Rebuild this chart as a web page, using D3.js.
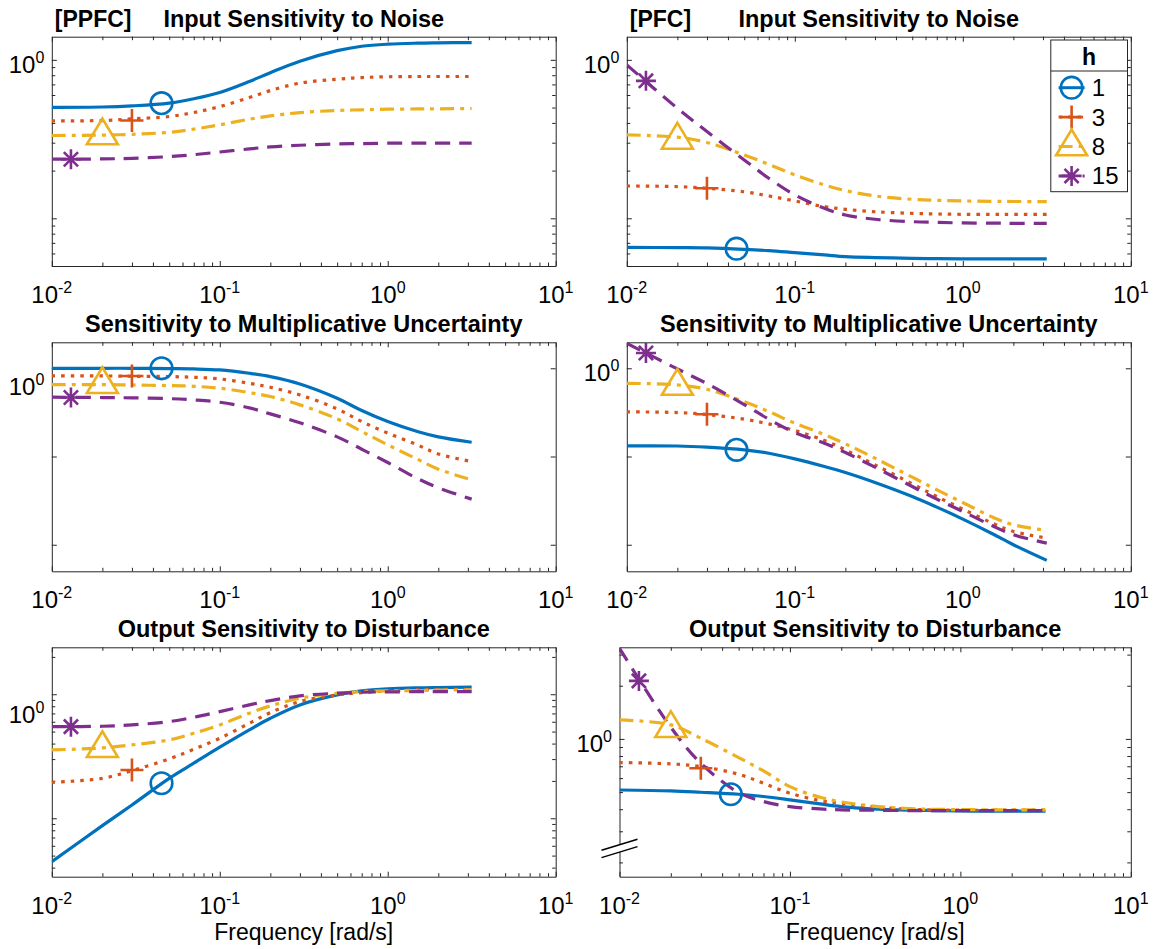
<!DOCTYPE html>
<html>
<head>
<meta charset="utf-8">
<script src="https://cdn.jsdelivr.net/npm/d3@7"></script>
<style>
  body { margin: 0; background: #fff; }
  text { font-family: "Liberation Sans", Arial, Helvetica, sans-serif; fill: #000; }
</style>
</head>
<body>
<div id="chart"></div>
<script>
// frequencies (rad/s) the curves were read at
var freq = [0.01, 0.02, 0.03, 0.05, 0.07, 0.1, 0.15, 0.2, 0.3, 0.5, 0.7, 1, 1.5, 2, 3.16];
var horizons = ["1", "3", "8", "15"];
var markerFreq = [0.045, 0.03, 0.02, 0.013];
var xTicks = [0.01, 0.1, 1, 10];
var xTickExp = ["-2", "-1", "0", "1"];

// one row per horizon h = 1, 3, 8, 15
var ppfcNoise = [
  [0.502, 0.504, 0.512, 0.533, 0.568, 0.622, 0.730, 0.830, 0.980, 1.143, 1.219, 1.256, 1.274, 1.28, 1.286],
  [0.412, 0.414, 0.424, 0.439, 0.465, 0.507, 0.578, 0.640, 0.713, 0.755, 0.773, 0.782, 0.785, 0.785, 0.785],
  [0.333, 0.335, 0.339, 0.349, 0.365, 0.389, 0.422, 0.443, 0.465, 0.479, 0.484, 0.488, 0.490, 0.491, 0.493],
  [0.236, 0.237, 0.239, 0.245, 0.252, 0.262, 0.274, 0.282, 0.289, 0.295, 0.296, 0.298, 0.298, 0.298, 0.298]
];
var ppfcNoiseMarks = [0.533, 0.414, 0.333, 0.236];

var pfcNoise = [
  [0.0656, 0.0653, 0.065, 0.0637, 0.0625, 0.0607, 0.0587, 0.0573, 0.0565, 0.0559, 0.0556, 0.0555, 0.0554, 0.0554, 0.0554],
  [0.160, 0.1585, 0.1547, 0.147, 0.1384, 0.1287, 0.1185, 0.114, 0.110, 0.1075, 0.1065, 0.106, 0.106, 0.106, 0.106],
  [0.336, 0.325, 0.301, 0.251, 0.219, 0.188, 0.1624, 0.1496, 0.1384, 0.1318, 0.130, 0.1287, 0.128, 0.1277, 0.1274],
  [0.930, 0.495, 0.353, 0.2335, 0.179, 0.1405, 0.1157, 0.105, 0.0986, 0.0952, 0.0943, 0.0935, 0.0932, 0.093, 0.093]
];
var pfcNoiseMarks = [0.0643, 0.1547, 0.3125, 0.737];

var ppfcUncert = [
  [1.0, 1.0, 1.0, 0.991, 0.983, 0.957, 0.878, 0.805, 0.665, 0.458, 0.332, 0.249, 0.192, 0.167, 0.145],
  [0.819, 0.819, 0.812, 0.805, 0.791, 0.757, 0.676, 0.609, 0.499, 0.346, 0.249, 0.184, 0.1355, 0.107, 0.0878],
  [0.653, 0.653, 0.647, 0.636, 0.625, 0.594, 0.530, 0.478, 0.385, 0.267, 0.192, 0.1355, 0.0933, 0.0719, 0.0544],
  [0.470, 0.466, 0.462, 0.453, 0.438, 0.412, 0.356, 0.304, 0.241, 0.167, 0.121, 0.0855, 0.0564, 0.0442, 0.0329]
];
var ppfcUncertMarks = [1.0, 0.819, 0.659, 0.466];

var pfcUncert = [
  [0.132, 0.1316, 0.1275, 0.119, 0.109, 0.0941, 0.0771, 0.0659, 0.0508, 0.0352, 0.0267, 0.01953, 0.01333, 0.01, 0.00665],
  [0.3204, 0.315, 0.299, 0.265, 0.234, 0.197, 0.1518, 0.119, 0.0805, 0.0491, 0.0352, 0.0253, 0.01758, 0.01416, 0.0119],
  [0.676, 0.648, 0.578, 0.419, 0.323, 0.2384, 0.1775, 0.139, 0.0958, 0.0583, 0.042, 0.0301, 0.0206, 0.01684, 0.01452],
  [1.918, 0.983, 0.67, 0.388, 0.265, 0.187, 0.1416, 0.111, 0.0757, 0.0457, 0.0329, 0.0238, 0.0164, 0.01297, 0.01044]
];
var pfcUncertMarks = [0.119, 0.301, 0.63, 1.49];

var ppfcDist = [
  [0.0447, 0.0873, 0.128, 0.210, 0.278, 0.374, 0.516, 0.640, 0.820, 0.988, 1.064, 1.104, 1.125, 1.132, 1.139],
  [0.195, 0.210, 0.2423, 0.301, 0.360, 0.4418, 0.583, 0.711, 0.873, 0.988, 1.031, 1.064, 1.084, 1.091, 1.097],
  [0.3557, 0.369, 0.3903, 0.4283, 0.4848, 0.566, 0.703, 0.805, 0.928, 1.019, 1.051, 1.064, 1.07, 1.078, 1.084],
  [0.548, 0.552, 0.566, 0.602, 0.652, 0.7245, 0.820, 0.889, 0.970, 1.019, 1.038, 1.044, 1.048, 1.05, 1.051]
];
var ppfcDistMarks = [0.1915, 0.2453, 0.367, 0.548];

var pfcDist = [
  [0.514, 0.508, 0.499, 0.486, 0.472, 0.452, 0.4285, 0.414, 0.402, 0.395, 0.393, 0.391, 0.39, 0.39, 0.3896],
  [0.735, 0.722, 0.697, 0.631, 0.561, 0.4926, 0.4477, 0.4324, 0.414, 0.3995, 0.3965, 0.3948, 0.3948, 0.3948, 0.3948],
  [1.281, 1.2, 1.009, 0.784, 0.659, 0.537, 0.4675, 0.44, 0.418, 0.403, 0.3995, 0.398, 0.397, 0.397, 0.3965],
  [3.26, 1.164, 0.728, 0.497, 0.442, 0.414, 0.4015, 0.3965, 0.3948, 0.393, 0.393, 0.393, 0.393, 0.393, 0.393]
];
var pfcDistMarks = [0.486, 0.682, 1.15, 2.13];

// MATLAB default colour order
var colors = ["#0072BD", "#D95319", "#EDB120", "#7E2F8E"];
var dashes = [null, "3.5,6", "14,6,4,6", "15,9"];
var shapes = ["circle", "plus", "triangle", "asterisk"];
var axisColor = "#262626";

var panels = [
  {data: ppfcNoise, marks: ppfcNoiseMarks, x0: 51.8, x1: 555.7, y0: 36.7, y1: 266, yDomain: [0.05, 1.4], minor: true,
   title: "Input Sensitivity to Noise", tag: "[PPFC]", labelShift: 0},
  {data: pfcNoise, marks: pfcNoiseMarks, x0: 626.8, x1: 1130.8, y0: 36.7, y1: 266, yDomain: [0.05, 1.4], minor: true,
   title: "Input Sensitivity to Noise", tag: "[PFC]", labelShift: 0, legend: true},
  {data: ppfcUncert, marks: ppfcUncertMarks, x0: 51.8, x1: 555.7, y0: 342.3, y1: 571.3, yDomain: [0.005, 1.97], minor: false,
   title: "Sensitivity to Multiplicative Uncertainty", labelShift: 14},
  {data: pfcUncert, marks: pfcUncertMarks, x0: 626.8, x1: 1130.8, y0: 342.3, y1: 571.3, yDomain: [0.005, 1.97], minor: false,
   title: "Sensitivity to Multiplicative Uncertainty", labelShift: 0},
  {data: ppfcDist, marks: ppfcDistMarks, x0: 51.8, x1: 555.7, y0: 647.3, y1: 876.7, yDomain: [0.0338, 2.39], minor: true,
   title: "Output Sensitivity to Disturbance", labelShift: 16, xlabel: true},
  {data: pfcDist, marks: pfcDistMarks, x0: 619.5, x1: 1130.8, y0: 647.3, y1: 876.7, yDomain: [0.166, 3.3], minor: true,
   title: "Output Sensitivity to Disturbance", labelShift: 0, xlabel: true, axisBreak: 0.24}
];

var svg = d3.select("#chart").append("svg")
    .attr("width", 1153)
    .attr("height", 949);

function logTicks(domain) {
  var major = [], minor = [];
  var k0 = Math.floor(Math.log10(domain[0])), k1 = Math.ceil(Math.log10(domain[1]));
  for (var k = k0; k <= k1; k++) {
    var base = Math.pow(10, k);
    if (base >= domain[0] && base <= domain[1]) major.push(base);
    for (var m = 2; m <= 9; m++) {
      var v = m * base;
      if (v >= domain[0] && v <= domain[1]) minor.push(v);
    }
  }
  return {major: major, minor: minor};
}

function drawMarker(g, shape, cx, cy, color) {
  var el;
  if (shape == "circle") {
    el = g.append("circle").attr("cx", cx).attr("cy", cy).attr("r", 10.8);
  } else if (shape == "plus") {
    el = g.append("path").attr("d", "M" + (cx - 11.5) + "," + cy + "H" + (cx + 11.5) + "M" + cx + "," + (cy - 11.5) + "V" + (cy + 11.5));
  } else if (shape == "triangle") {
    el = g.append("path").attr("d", "M" + cx + "," + (cy - 17) + "L" + (cx + 15.5) + "," + (cy + 8.8) + "L" + (cx - 15.5) + "," + (cy + 8.8) + "Z");
  } else {
    var a = 10, d = 7.1;
    el = g.append("path").attr("d",
      "M" + (cx - a) + "," + cy + "H" + (cx + a) +
      "M" + cx + "," + (cy - a) + "V" + (cy + a) +
      "M" + (cx - d) + "," + (cy - d) + "L" + (cx + d) + "," + (cy + d) +
      "M" + (cx - d) + "," + (cy + d) + "L" + (cx + d) + "," + (cy - d));
  }
  el.attr("fill", "none").attr("stroke", color).attr("stroke-width", 2.6);
}

function powerLabel(g, px, py, exp, anchor) {
  var t = g.append("text")
    .attr("x", px)
    .attr("y", py)
    .attr("text-anchor", anchor)
    .style("font-size", "24px");
  t.append("tspan").text("10");
  t.append("tspan").attr("dy", -10).style("font-size", "16px").text(exp);
}

panels.forEach(function(p, pi) {
  var x = d3.scaleLog().domain([0.01, 10]).range([p.x0, p.x1]);
  var y = d3.scaleLog().domain(p.yDomain).range([p.y1, p.y0]);
  var g = svg.append("g");

  var clipId = "clip" + pi;
  svg.append("clipPath").attr("id", clipId)
    .append("rect")
      .attr("x", p.x0).attr("y", p.y0)
      .attr("width", p.x1 - p.x0).attr("height", p.y1 - p.y0);

  // ticks on all four sides, pointing inwards
  var xt = logTicks([0.01, 10]);
  var yt = logTicks(p.yDomain);
  var yMinor = p.minor ? yt.minor : [];
  var axes = [
    {ax: d3.axisBottom(x), tr: "translate(0," + p.y1 + ")", major: xt.major, minor: xt.minor},
    {ax: d3.axisTop(x), tr: "translate(0," + p.y0 + ")", major: xt.major, minor: xt.minor},
    {ax: d3.axisLeft(y), tr: "translate(" + p.x0 + ",0)", major: yt.major, minor: yMinor},
    {ax: d3.axisRight(y), tr: "translate(" + p.x1 + ",0)", major: yt.major, minor: yMinor}
  ];
  axes.forEach(function(a) {
    g.append("g")
      .attr("transform", a.tr)
      .attr("color", axisColor)
      .call(a.ax.tickValues(a.major).tickSizeInner(-5).tickSizeOuter(0).tickFormat(""));
    g.append("g")
      .attr("transform", a.tr)
      .attr("color", axisColor)
      .call(a.ax.tickValues(a.minor).tickSizeInner(-3.5).tickSizeOuter(0).tickFormat(""))
      .select(".domain").remove();
  });

  // curves
  var line = d3.line()
    .x(function(d, i) { return x(freq[i]); })
    .y(function(d) { return y(d); })
    .curve(d3.curveCatmullRom.alpha(0.5));
  p.data.forEach(function(vals, si) {
    g.append("path")
      .attr("d", line(vals))
      .attr("fill", "none")
      .attr("stroke", colors[si])
      .attr("stroke-width", 3.2)
      .attr("stroke-dasharray", dashes[si])
      .attr("clip-path", "url(#" + clipId + ")");
  });
  p.marks.forEach(function(v, si) {
    drawMarker(g, shapes[si], x(markerFreq[si]), y(v), colors[si]);
  });

  // y-axis break marker
  if (p.axisBreak) {
    var yb = y(p.axisBreak), h = 3.7, w = 18, s = 5.5;
    g.append("path")
      .attr("d", "M" + (p.x0 - w) + "," + (yb - h + s) + "L" + (p.x0 + w) + "," + (yb - h - s) +
                 "L" + (p.x0 + w) + "," + (yb + h - s) + "L" + (p.x0 - w) + "," + (yb + h + s) + "Z")
      .attr("fill", "#fff");
    [-h, h].forEach(function(dd) {
      g.append("line")
        .attr("x1", p.x0 - w).attr("y1", yb + dd + s)
        .attr("x2", p.x0 + w).attr("y2", yb + dd - s)
        .attr("stroke", "#000").attr("stroke-width", 1.5);
    });
  }

  // tick labels
  xTicks.forEach(function(v, i) {
    powerLabel(g, x(v), p.y1 + 37, xTickExp[i], "middle");
  });
  powerLabel(g, p.x0 - 7.5, y(1) + 13 + p.labelShift, "0", "end");

  // titles
  g.append("text")
    .attr("x", (p.x0 + p.x1) / 2)
    .attr("y", p.y0 - 10)
    .attr("text-anchor", "middle")
    .style("font-size", "23.5px")
    .style("font-weight", "bold")
    .text(p.title);
  if (p.tag) {
    g.append("text")
      .attr("x", p.x0 + 3)
      .attr("y", p.y0 - 10)
      .style("font-size", "23px")
      .style("font-weight", "bold")
      .text(p.tag);
  }
  if (p.xlabel) {
    g.append("text")
      .attr("x", (p.x0 + p.x1) / 2)
      .attr("y", p.y1 + 63)
      .attr("text-anchor", "middle")
      .style("font-size", "23px")
      .text("Frequency [rad/s]");
  }

  // legend
  if (p.legend) {
    var lx = 1050.8, ly = 40, lw = 76.7, lh = 151.7;
    var lg = g.append("g");
    lg.append("rect")
      .attr("x", lx).attr("y", ly).attr("width", lw).attr("height", lh)
      .attr("fill", "#fff").attr("stroke", axisColor).attr("stroke-width", 1);
    lg.append("text")
      .attr("x", lx + lw / 2).attr("y", ly + 25)
      .attr("text-anchor", "middle")
      .style("font-size", "23px").style("font-weight", "bold")
      .text("h");
    lg.append("line")
      .attr("x1", lx).attr("x2", lx + lw)
      .attr("y1", ly + 31).attr("y2", ly + 31)
      .attr("stroke", axisColor).attr("stroke-width", 1);
    horizons.forEach(function(hz, si) {
      var cy = ly + 47.7 + si * 29.4, cx = lx + 20.8;
      lg.append("line")
        .attr("x1", cx - 13).attr("x2", cx + 13)
        .attr("y1", cy).attr("y2", cy)
        .attr("stroke", colors[si]).attr("stroke-width", 3)
        .attr("stroke-dasharray", dashes[si]);
      drawMarker(lg, shapes[si], cx, cy, colors[si]);
      lg.append("text")
        .attr("x", lx + 41).attr("y", cy + 8.5)
        .style("font-size", "24px")
        .text(hz);
    });
  }
});
</script>
</body>
</html>
